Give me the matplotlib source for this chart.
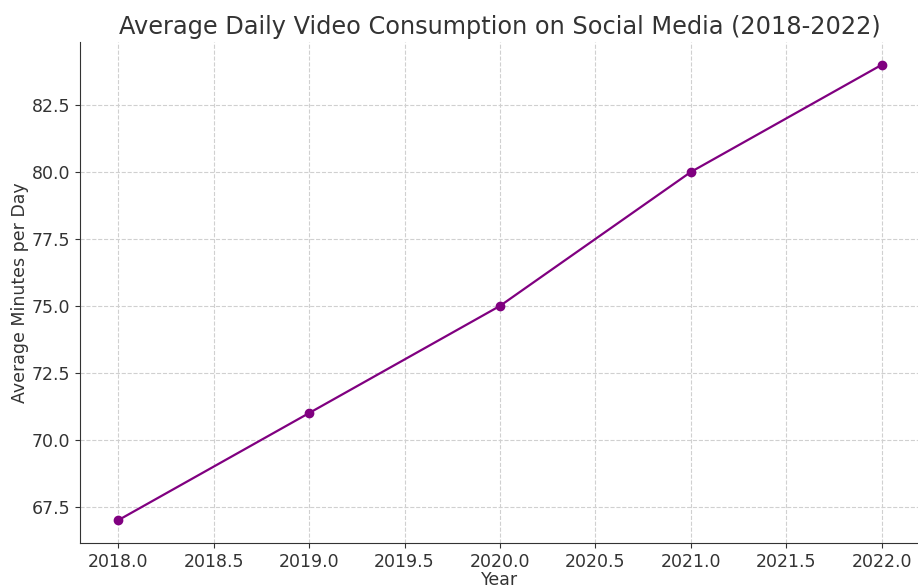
import matplotlib.pyplot as plt

# average daily video minutes per year
years = [2018, 2019, 2020, 2021, 2022]
minutes = [67, 71, 75, 80, 84]

fig = plt.figure(figsize=(9.18, 5.88), dpi=100)
ax = fig.add_axes([80 / 918, 45 / 588, 840 / 918, 501 / 588])

ax.plot(years, minutes, color='purple', marker='o', markersize=6, linewidth=1.6)

ax.set_title('Average Daily Video Consumption on Social Media (2018-2022)',
             fontsize=17.3, color='#333333', pad=6)
ax.set_xlabel('Year', fontsize=12.5, color='#333333', labelpad=0)
ax.set_ylabel('Average Minutes per Day', fontsize=12.5, color='#333333', labelpad=2)
ax.tick_params(labelsize=12.5, colors='#333333')
ax.grid(True, linestyle='--', color='#d0d0d0', linewidth=0.8)

# hide top/right frame
ax.spines['top'].set_visible(False)
ax.spines['right'].set_visible(False)
for s in ['left', 'bottom']:
    ax.spines[s].set_color('#333333')

fig.savefig('out.png', dpi=100)
